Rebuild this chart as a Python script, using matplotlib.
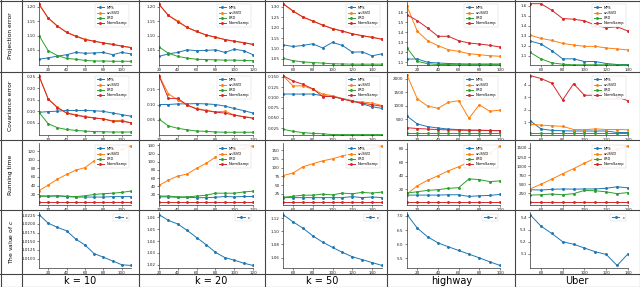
import matplotlib
matplotlib.use("Agg")
import matplotlib.pyplot as plt
from matplotlib.lines import Line2D
from matplotlib.ticker import FormatStrFormatter

# ---------------- data ----------------
x_k10 = [10, 20, 30, 40, 50, 60, 70, 80, 90, 100, 110]
x_k20 = [20, 30, 40, 50, 60, 70, 80, 90, 100, 110, 120]
x_k50 = [50, 60, 70, 80, 90, 100, 110, 120, 130, 140, 150]
x_hw = [10, 20, 30, 40, 50, 60, 70, 80, 90, 100]
x_ub = [50, 60, 70, 80, 90, 100, 110, 120, 130, 140]

methods = ["MPS", "uniSVD", "LRD", "NormSamp"]
col_labels = ["k = 10", "k = 20", "k = 50", "highway", "Uber"]
row_labels = ["Projection error", "Covariance error", "Running time", "The value of $c$"]

# Projection error
proj_k10_mps = [1.017, 1.022, 1.028, 1.033, 1.041, 1.038, 1.039, 1.041, 1.033, 1.041, 1.036]
proj_k10_uni = [1.209, 1.161, 1.133, 1.111, 1.099, 1.087, 1.080, 1.074, 1.069, 1.063, 1.058]
proj_k10_lrd = [1.100, 1.047, 1.030, 1.020, 1.017, 1.013, 1.011, 1.011, 1.010, 1.010, 1.010]
proj_k10_ns = [1.209, 1.161, 1.133, 1.111, 1.097, 1.086, 1.080, 1.074, 1.069, 1.063, 1.058]

proj_k20_mps = [1.027, 1.036, 1.041, 1.050, 1.047, 1.048, 1.050, 1.041, 1.052, 1.047, 1.033]
proj_k20_uni = [1.209, 1.170, 1.151, 1.128, 1.114, 1.102, 1.094, 1.086, 1.080, 1.075, 1.069]
proj_k20_lrd = [1.060, 1.038, 1.027, 1.021, 1.017, 1.016, 1.015, 1.014, 1.014, 1.013, 1.012]
proj_k20_ns = [1.209, 1.170, 1.148, 1.128, 1.114, 1.102, 1.094, 1.086, 1.080, 1.075, 1.069]

proj_k50_mps = [1.118, 1.110, 1.115, 1.123, 1.103, 1.130, 1.115, 1.083, 1.084, 1.065, 1.075]
proj_k50_uni = [1.316, 1.281, 1.252, 1.234, 1.213, 1.196, 1.184, 1.171, 1.162, 1.154, 1.145]
proj_k50_lrd = [1.053, 1.042, 1.036, 1.033, 1.030, 1.027, 1.026, 1.025, 1.025, 1.025, 1.025]
proj_k50_ns = [1.316, 1.281, 1.252, 1.232, 1.213, 1.196, 1.184, 1.171, 1.162, 1.154, 1.145]

proj_hw_mps = [1.130, 1.130, 1.097, 1.090, 1.085, 1.082, 1.080, 1.080, 1.080, 1.080]
proj_hw_uni = [1.657, 1.407, 1.313, 1.263, 1.223, 1.207, 1.183, 1.173, 1.163, 1.157]
proj_hw_lrd = [1.240, 1.107, 1.083, 1.075, 1.074, 1.073, 1.073, 1.073, 1.073, 1.073]
proj_hw_ns = [1.573, 1.513, 1.440, 1.357, 1.357, 1.313, 1.290, 1.280, 1.267, 1.250]

proj_ub_mps = [1.247, 1.217, 1.150, 1.067, 1.067, 1.040, 1.040, 1.020, 1.010, 1.010]
proj_ub_uni = [1.307, 1.273, 1.253, 1.223, 1.207, 1.193, 1.193, 1.177, 1.167, 1.157]
proj_ub_lrd = [1.133, 1.067, 1.027, 1.013, 1.007, 1.007, 1.007, 1.007, 1.007, 1.007]
proj_ub_ns = [1.623, 1.623, 1.557, 1.473, 1.467, 1.450, 1.407, 1.380, 1.390, 1.347]

# Covariance error
cov_k10_mps = [0.096, 0.099, 0.101, 0.104, 0.104, 0.104, 0.103, 0.100, 0.093, 0.086, 0.079]
cov_k10_uni = [0.254, 0.154, 0.118, 0.093, 0.086, 0.078, 0.072, 0.067, 0.059, 0.061, 0.050]
cov_k10_lrd = [0.096, 0.046, 0.029, 0.021, 0.017, 0.014, 0.012, 0.011, 0.010, 0.010, 0.010]
cov_k10_ns = [0.254, 0.154, 0.116, 0.093, 0.083, 0.076, 0.071, 0.067, 0.057, 0.057, 0.050]

cov_k20_mps = [0.100, 0.100, 0.102, 0.102, 0.103, 0.102, 0.100, 0.095, 0.087, 0.080, 0.072]
cov_k20_uni = [0.195, 0.135, 0.115, 0.098, 0.087, 0.081, 0.076, 0.078, 0.066, 0.060, 0.056]
cov_k20_lrd = [0.052, 0.030, 0.022, 0.017, 0.013, 0.012, 0.010, 0.009, 0.009, 0.009, 0.009]
cov_k20_ns = [0.195, 0.120, 0.120, 0.098, 0.085, 0.080, 0.075, 0.072, 0.065, 0.060, 0.055]

cov_k50_mps = [0.108, 0.108, 0.108, 0.108, 0.104, 0.102, 0.097, 0.092, 0.084, 0.077, 0.073]
cov_k50_uni = [0.153, 0.128, 0.128, 0.120, 0.108, 0.104, 0.097, 0.090, 0.089, 0.086, 0.080]
cov_k50_lrd = [0.022, 0.017, 0.014, 0.012, 0.011, 0.009, 0.009, 0.009, 0.009, 0.009, 0.009]
cov_k50_ns = [0.153, 0.140, 0.132, 0.121, 0.102, 0.102, 0.096, 0.090, 0.086, 0.082, 0.078]

cov_hw_mps = [620, 330, 230, 180, 140, 120, 100, 100, 90, 80]
cov_hw_uni = [2140, 1260, 990, 910, 1130, 1190, 540, 1040, 800, 840]
cov_hw_lrd = [5, 5, 5, 5, 5, 5, 5, 5, 5, 5]
cov_hw_ns = [190, 160, 140, 120, 110, 100, 95, 90, 85, 80]

cov_ub_mps = [1.12, 0.46, 0.34, 0.31, 0.29, 0.29, 0.29, 0.29, 0.17, 0.17]
cov_ub_uni = [0.83, 0.76, 0.71, 0.66, 0.41, 0.39, 0.46, 0.41, 0.41, 0.39]
cov_ub_lrd = [0.12, 0.12, 0.12, 0.12, 0.12, 0.12, 0.12, 0.12, 0.12, 0.12]
cov_ub_ns = [4.73, 4.49, 4.12, 2.78, 4.07, 3.15, 3.15, 3.51, 3.02, 2.71]

# Running time
time_k10_mps = [16, 15, 16, 14, 13, 13, 13, 13, 14, 14, 14]
time_k10_uni = [28, 41, 55, 66, 76, 82, 98, 109, 117, 125, 133]
time_k10_lrd = [15, 15, 16, 15, 14, 16, 19, 21, 22, 24, 27]
time_k10_ns = [1, 1, 1, 1, 1, 1, 1, 1, 1, 1, 1]

time_k20_mps = [14, 14, 13, 13, 12, 12, 13, 15, 14, 15, 15]
time_k20_uni = [42, 55, 65, 70, 84, 96, 111, 122, 127, 133, 139]
time_k20_lrd = [16, 16, 14, 14, 16, 18, 23, 23, 23, 26, 28]
time_k20_ns = [1, 1, 1, 1, 1, 1, 1, 1, 1, 1, 1]

time_k50_mps = [14, 14, 14, 14, 14, 14, 14, 17, 14, 16, 14]
time_k50_uni = [77, 84, 102, 111, 119, 125, 133, 140, 147, 155, 162]
time_k50_lrd = [15, 18, 21, 21, 24, 22, 27, 25, 29, 27, 30]
time_k50_ns = [1, 1, 1, 1, 1, 1, 1, 1, 1, 1, 1]

time_hw_mps = [11, 11, 11, 11, 11.5, 11.5, 9, 10, 10.5, 12]
time_hw_uni = [12.6, 24.8, 33, 39.6, 47, 53, 60, 67, 73, 84]
time_hw_lrd = [14, 16, 18, 19, 21, 22, 35, 34, 31, 32]
time_hw_ns = [0.5, 0.5, 0.5, 0.5, 0.5, 0.5, 0.5, 0.5, 0.5, 0.5]

time_ub_mps = [350, 340, 360, 370, 365, 370, 370, 390, 430, 400]
time_ub_uni = [370, 500, 640, 790, 930, 1080, 1220, 1350, 1470, 1560]
time_ub_lrd = [200, 210, 230, 210, 240, 330, 320, 290, 240, 270]
time_ub_ns = [5, 5, 5, 5, 5, 5, 5, 5, 5, 5]

# The value of c
c_k10 = [1.0227, 1.0202, 1.0190, 1.0180, 1.0156, 1.0139, 1.0114, 1.0104, 1.0093, 1.0082, 1.0080]
c_k20 = [1.0625, 1.0575, 1.0545, 1.0490, 1.0430, 1.0370, 1.0305, 1.0260, 1.0238, 1.0213, 1.0193]
c_k50 = [1.1257, 1.1147, 1.1050, 1.0933, 1.0836, 1.0756, 1.0680, 1.0613, 1.0569, 1.0524, 1.0480]
c_hw = [7.05, 6.57, 6.26, 6.05, 5.91, 5.78, 5.65, 5.52, 5.38, 5.25]
c_ub = [5.424, 5.329, 5.268, 5.200, 5.179, 5.148, 5.117, 5.095, 5.004, 5.100]

# ---------------- layout ----------------
W, H = 640, 287
fig = plt.figure(figsize=(W / 100, H / 100), dpi=100)

col_x = [(39, 131), (159, 253), (283, 382), (407, 500), (530, 628)]
row_y = [(2, 65), (74, 135), (143, 205), (212, 268)]
colors = ["#1f77b4", "#ff7f0e", "#2ca02c", "#d62728"]


def make_ax(c, r):
    x0, x1 = col_x[c]
    y0, y1 = row_y[r]
    ax = fig.add_axes([x0 / W, 1 - y1 / H, (x1 - x0) / W, (y1 - y0) / H])
    for s in ["top", "right"]:
        ax.spines[s].set_visible(False)
    for s in ["left", "bottom"]:
        ax.spines[s].set_linewidth(0.5)
        ax.spines[s].set_color("#333333")
    ax.tick_params(labelsize=3, length=1.5, width=0.4, pad=1, colors="#222222")
    return ax


def legend(ax):
    ax.legend(loc="upper right", fontsize=2.6, handlelength=2.0, borderpad=0.5,
              labelspacing=0.35, frameon=True, framealpha=0.9, edgecolor="#cccccc",
              fancybox=False).get_frame().set_linewidth(0.3)


def four(ax, x, series, xlim, ylim=None, yticks=None, xticks=None, fmt=None):
    for ys, name, col in zip(series, methods, colors):
        ax.plot(x, ys, color=col, lw=0.7, marker=".", ms=2.2, label=name)
    ax.set_xlim(*xlim)
    if ylim is not None:
        ax.set_ylim(*ylim)
    if yticks is not None:
        ax.set_yticks(yticks)
    if xticks is not None:
        ax.set_xticks(xticks)
    if fmt:
        ax.yaxis.set_major_formatter(FormatStrFormatter(fmt))
    legend(ax)


xs = [x_k10, x_k20, x_k50, x_hw, x_ub]
xlims = [(10, 110), (20, 120), (50, 150), (10, 100), (50, 140)]
xt = [[20, 40, 60, 80, 100], [20, 40, 60, 80, 100, 120], [60, 80, 100, 120, 140],
      [20, 40, 60, 80, 100], [60, 80, 100, 120, 140]]

# Row 1
proj = [
    [proj_k10_mps, proj_k10_uni, proj_k10_lrd, proj_k10_ns],
    [proj_k20_mps, proj_k20_uni, proj_k20_lrd, proj_k20_ns],
    [proj_k50_mps, proj_k50_uni, proj_k50_lrd, proj_k50_ns],
    [proj_hw_mps, proj_hw_uni, proj_hw_lrd, proj_hw_ns],
    [proj_ub_mps, proj_ub_uni, proj_ub_lrd, proj_ub_ns],
]
proj_ylim = [(0.997, 1.217), (0.997, 1.217), (1.021, 1.324), (1.07, 1.70), (1.005, 1.64)]
proj_yt = [[1.05, 1.10, 1.15, 1.20], [1.05, 1.10, 1.15, 1.20],
           [1.05, 1.10, 1.15, 1.20, 1.25, 1.30],
           [1.1, 1.2, 1.3, 1.4, 1.5, 1.6], [1.1, 1.2, 1.3, 1.4, 1.5, 1.6]]
proj_fmt = ["%.2f", "%.2f", "%.2f", "%.1f", "%.1f"]
for c in range(5):
    ax = make_ax(c, 0)
    four(ax, xs[c], proj[c], xlims[c], proj_ylim[c], proj_yt[c], xt[c], proj_fmt[c])

# Row 2
cov = [
    [cov_k10_mps, cov_k10_uni, cov_k10_lrd, cov_k10_ns],
    [cov_k20_mps, cov_k20_uni, cov_k20_lrd, cov_k20_ns],
    [cov_k50_mps, cov_k50_uni, cov_k50_lrd, cov_k50_ns],
    [cov_hw_mps, cov_hw_uni, cov_hw_lrd, cov_hw_ns],
    [cov_ub_mps, cov_ub_uni, cov_ub_lrd, cov_ub_ns],
]
cov_ylim = [(-0.003, 0.263), (0.0, 0.2), (0.008, 0.157), (-80, 2180), (-0.03, 4.85)]
cov_yt = [[0.05, 0.10, 0.15, 0.20, 0.25], [0.05, 0.10, 0.15],
          [0.025, 0.050, 0.075, 0.100, 0.125, 0.150], [500, 1000, 1500, 2000], [1, 2, 3, 4]]
cov_fmt = ["%.2f", "%.2f", "%.3f", None, None]
for c in range(5):
    ax = make_ax(c, 1)
    four(ax, xs[c], cov[c], xlims[c], cov_ylim[c], cov_yt[c], xt[c], cov_fmt[c])

# Row 3
tm = [
    [time_k10_mps, time_k10_uni, time_k10_lrd, time_k10_ns],
    [time_k20_mps, time_k20_uni, time_k20_lrd, time_k20_ns],
    [time_k50_mps, time_k50_uni, time_k50_lrd, time_k50_ns],
    [time_hw_mps, time_hw_uni, time_hw_lrd, time_hw_ns],
    [time_ub_mps, time_ub_uni, time_ub_lrd, time_ub_ns],
]
tm_yt = [[20, 40, 60, 80, 100, 120], [20, 40, 60, 80, 100, 120, 140],
         [25, 50, 75, 100, 125, 150], [20, 40, 60, 80], [250, 500, 750, 1000, 1250, 1500]]
for c in range(5):
    ax = make_ax(c, 2)
    four(ax, xs[c], tm[c], xlims[c], None, tm_yt[c], xt[c])

# Row 4
cs = [c_k10, c_k20, c_k50, c_hw, c_ub]
c_yt = [[1.0100, 1.0125, 1.0150, 1.0175, 1.0200, 1.0225], [1.02, 1.03, 1.04, 1.05, 1.06],
        [1.06, 1.08, 1.10, 1.12], [5.5, 6.0, 6.5, 7.0], [5.1, 5.2, 5.3, 5.4]]
c_fmt = ["%.4f", "%.2f", "%.2f", "%.1f", "%.1f"]
for c in range(5):
    ax = make_ax(c, 3)
    ax.plot(xs[c], cs[c], color=colors[0], lw=0.7, marker=".", ms=2.2, label="c")
    ax.set_xlim(*xlims[c])
    ax.set_yticks(c_yt[c])
    ax.set_xticks(xt[c])
    ax.yaxis.set_major_formatter(FormatStrFormatter(c_fmt[c]))
    legend(ax)

# ---------------- table grid ----------------
lc = "#444444"
for xv in [22, 139, 265, 387, 515]:
    fig.add_artist(Line2D([xv / W, xv / W], [0, 1], transform=fig.transFigure, color=lc, lw=0.8))
for yv in [72, 140, 210, 274]:
    fig.add_artist(Line2D([0, 1], [1 - yv / H, 1 - yv / H], transform=fig.transFigure, color=lc, lw=0.8))
for (a, b) in [((0.5 / W, 0.5 / W), (0, 1)), ((1 - 0.5 / W, 1 - 0.5 / W), (0, 1)),
               ((0, 1), (0.5 / H, 0.5 / H)), ((0, 1), (1 - 0.5 / H, 1 - 0.5 / H))]:
    fig.add_artist(Line2D(a, b, transform=fig.transFigure, color=lc, lw=0.8))

row_centers = [36, 106, 175, 242]
for lab, yc in zip(row_labels, row_centers):
    fig.text(11 / W, 1 - yc / H, lab, rotation=90, ha="center", va="center", fontsize=4.3)

col_centers = [80, 211, 322, 452, 577]
for lab, xc in zip(col_labels, col_centers):
    fig.text(xc / W, 1 - 281 / H, lab, ha="center", va="center", fontsize=7)

fig.savefig("out.png", dpi=100)
